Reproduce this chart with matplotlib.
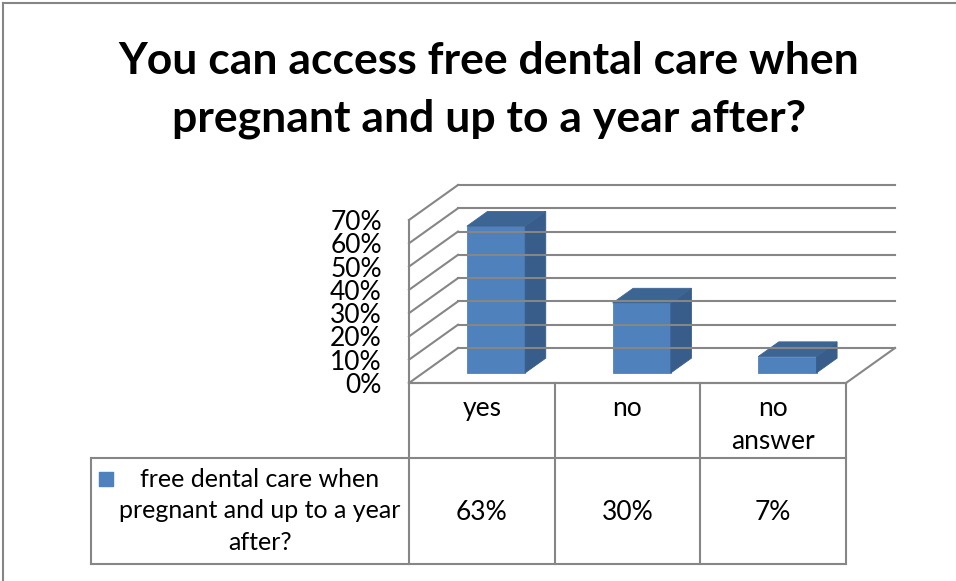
import numpy as np
import matplotlib
matplotlib.use("Agg")
import matplotlib.pyplot as plt
from matplotlib.patches import Polygon
from matplotlib.lines import Line2D

# data
categories = ["yes", "no", "no\nanswer"]
values = [0.63, 0.30, 0.07]
value_labels = ["63%", "30%", "7%"]
yticks = [0.0, 0.1, 0.2, 0.3, 0.4, 0.5, 0.6, 0.7]
ytick_labels = ["0%", "10%", "20%", "30%", "40%", "50%", "60%", "70%"]
series_name = "free dental care when\npregnant and up to a year\nafter?"
title = "You can access free dental care when\npregnant and up to a year after?"

W, H = 956, 581
FONT = "Lato"
GRID = "#868686"
FRONT, SIDE, TOP = "#4F81BD", "#385D8A", "#3D6594"
DX, DY = 49, 35          # depth offset of the 3d box in pixels
D0, D1 = 0.29, 0.71      # bar depth range

fig = plt.figure(figsize=(W / 100, H / 100), dpi=100)

def px_axes(l, t, r, b):
    return fig.add_axes([l / W, 1 - b / H, (r - l) / W, (b - t) / H])

# front plane of the 3d plot
ax = px_axes(409, 220, 846, 383)
ax.set_xlim(0, len(categories))
ax.set_ylim(0, 0.7)
for s in ax.spines.values():
    s.set_visible(False)
ax.set_xticks([])
ax.set_yticks(yticks)
ax.set_yticklabels(ytick_labels, fontsize=19, family=FONT)
ax.tick_params(axis="y", length=0, pad=19.5)
ax.patch.set_visible(False)

inv = fig.transFigure.inverted()

def pt(x, y, d):
    p = ax.transData.transform((x, y)) + d * np.array([DX, DY])
    return inv.transform(p)

def line(p, q, **kw):
    fig.add_artist(Line2D([p[0], q[0]], [p[1], q[1]], transform=fig.transFigure,
                          color=GRID, lw=1.5, **kw))

def poly(pts, color):
    fig.add_artist(Polygon(pts, closed=True, transform=fig.transFigure,
                           facecolor=color, edgecolor=color, lw=0.6))

n = len(categories)
# walls and floor
for v in yticks:
    line(pt(0, v, 0), pt(0, v, 1))
    line(pt(0, v, 1), pt(n, v, 1))
line(pt(0, 0, 0), pt(0, 0.7, 0))
line(pt(n, 0, 0), pt(n, 0, 1))
line(pt(0, 0, 0), pt(n, 0, 0))

# bars
for i, v in enumerate(values):
    x0, x1 = i + 0.3, i + 0.7
    poly([pt(x0, 0, D0), pt(x1, 0, D0), pt(x1, v, D0), pt(x0, v, D0)], FRONT)
    poly([pt(x1, 0, D0), pt(x1, 0, D1), pt(x1, v, D1), pt(x1, v, D0)], SIDE)
    poly([pt(x0, v, D0), pt(x1, v, D0), pt(x1, v, D1), pt(x0, v, D1)], TOP)

# data table
tab = px_axes(91, 383, 846, 564)
unit = (846 - 409) / n
xl = (91 - 409) / unit
tab.set_xlim(xl, n)
tab.set_ylim(0, 1)
tab.axis("off")
mid = (564 - 458) / (564 - 383)
tk = dict(color=GRID, lw=1.5, clip_on=False)
tab.plot([0, n], [1, 1], **tk)
tab.plot([xl, n], [mid, mid], **tk)
tab.plot([xl, n], [0, 0], **tk)
for k in range(n + 1):
    tab.plot([k, k], [0, 1], **tk)
tab.plot([xl, xl], [0, mid], **tk)

for i, c in enumerate(categories):
    tab.text(i + 0.5, 1 - 13 / 181, c, ha="center", va="top", fontsize=19,
             family=FONT, linespacing=1.4)
    tab.text(i + 0.5, 0.285, value_labels[i], ha="center", va="center",
             fontsize=19, family=FONT)

tab.text((260 - 409) / unit, 0.295, series_name, ha="center", va="center",
         fontsize=18, family=FONT, linespacing=1.45)
tab.scatter([(106 - 409) / unit], [(564 - 479) / 181], marker="s",
            s=105, color=FRONT, clip_on=False)

# title
fig.text(489 / W, 1 - 90 / H, title, ha="center", va="center", fontsize=32,
         fontweight="bold", family=FONT, linespacing=1.55)

# chart area border
fig.add_artist(Line2D([3 / W, 1], [1 - 3 / H, 1 - 3 / H], transform=fig.transFigure,
                      color=GRID, lw=1.5))
fig.add_artist(Line2D([3 / W, 3 / W], [0, 1 - 3 / H], transform=fig.transFigure,
                      color=GRID, lw=1.5))

fig.savefig("out.png", dpi=100)
